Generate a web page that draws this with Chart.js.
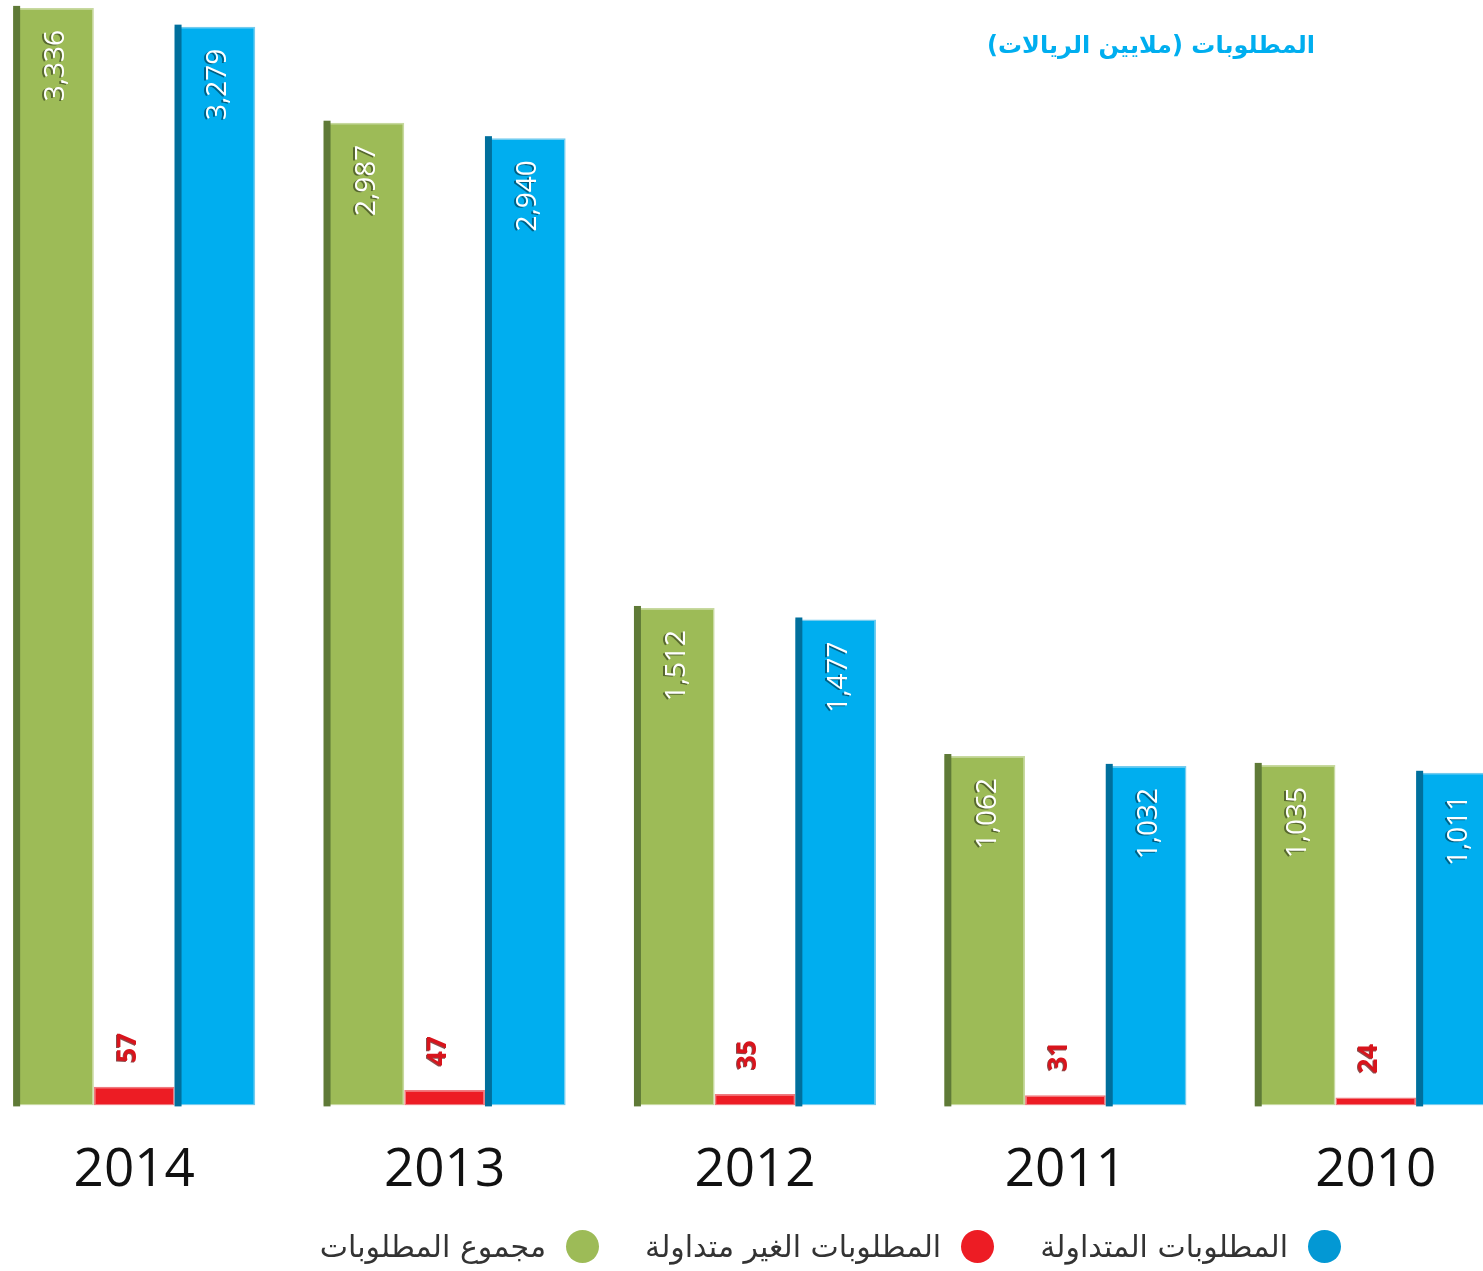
<!DOCTYPE html>
<html lang="ar">
<head>
    <meta charset="UTF-8">
    <title>المطلوبات</title>
    <style>
        body, html {
            margin: 0;
            padding: 0;
            width: 1483px;
            height: 1271px;
            overflow: hidden;
            background: #fff;
            font-family: 'Open Sans', 'DejaVu Sans', sans-serif;
        }
        .chart-wrap {
            position: absolute;
            left: -21px;
            top: 0;
            width: 1552px;
            height: 1271px;
        }
        .title {
            position: absolute;
            right: 168px;
            top: 31px;
            direction: rtl;
            color: #00aeef;
            font-weight: bold;
            font-size: 24px;
            font-family: 'DejaVu Sans', sans-serif;
        }
        .legend {
            position: absolute;
            right: 142px;
            top: 1229px;
            direction: rtl;
            display: flex;
            align-items: center;
            font-family: 'DejaVu Sans', sans-serif;
            font-size: 30px;
            color: #333;
        }
        .legend .item {
            display: flex;
            align-items: center;
            margin-left: 46px;
        }
        .legend .dot {
            width: 33px;
            height: 33px;
            border-radius: 50%;
            margin-left: 20px;
        }
    </style>
    <script src="https://cdn.jsdelivr.net/npm/chart.js"></script>
</head>
<body>
    <div class="chart-wrap">
        <canvas id="liabChart"></canvas>
    </div>
    <div class="title">المطلوبات (ملايين الريالات)</div>
    <div class="legend" id="legend"></div>

    <script>
        const years = ['2014', '2013', '2012', '2011', '2010'];
        const totalLiab = [3336, 2987, 1512, 1062, 1035];
        const nonCurrentLiab = [57, 47, 35, 31, 24];
        const currentLiab = [3279, 2940, 1477, 1032, 1011];
        const seriesNames = ['مجموع المطلوبات', 'المطلوبات الغير متداولة', 'المطلوبات المتداولة'];

        const fills = ['#9dbb57', '#ed1c24', '#00aeef'];
        const edges = ['#c7d99f', '#ef7a7f', '#74cbee'];
        const stripes = ['#5f7a37', null, '#006f9c'];
        const legendDots = ['#9dbb57', '#ed1c24', '#0398d4'];

        // dark left edge of each bar, gives the flat 3d look
        const stripePlugin = {
            id: 'stripes',
            afterDatasetsDraw(chart) {
                const c = chart.ctx;
                chart.data.datasets.forEach((ds, i) => {
                    if (!stripes[i]) return;
                    chart.getDatasetMeta(i).data.forEach(bar => {
                        const left = bar.x - bar.width / 2;
                        c.fillStyle = stripes[i];
                        c.fillRect(left, bar.y - 2, 7, bar.base - bar.y + 3);
                    });
                });
            }
        };

        // rotated value labels
        const valuePlugin = {
            id: 'values',
            afterDatasetsDraw(chart) {
                const c = chart.ctx;
                chart.data.datasets.forEach((ds, i) => {
                    chart.getDatasetMeta(i).data.forEach((bar, j) => {
                        const txt = ds.data[j].toLocaleString('en-US');
                        c.save();
                        if (i === 1) {
                            c.translate(bar.x - 6, bar.y - 24);
                            c.rotate(-Math.PI / 2);
                            c.font = 'bold 26px "Open Sans"';
                            c.textAlign = 'left';
                            c.textBaseline = 'middle';
                            c.shadowColor = 'rgba(90,0,0,0.7)';
                            c.shadowOffsetX = -1;
                            c.shadowOffsetY = 1;
                            c.fillStyle = '#d8141c';
                        } else {
                            c.translate(bar.x + 3, bar.y + 22);
                            c.rotate(-Math.PI / 2);
                            c.font = '28px "Open Sans"';
                            c.textAlign = 'right';
                            c.textBaseline = 'middle';
                            c.shadowColor = 'rgba(0,0,0,0.45)';
                            c.shadowOffsetX = -2;
                            c.shadowOffsetY = 1;
                            c.fillStyle = '#ffffff';
                        }
                        c.fillText(txt, 0, 0);
                        c.restore();
                    });
                });
            }
        };

        const seriesData = [totalLiab, nonCurrentLiab, currentLiab];

        const chart = new Chart(document.getElementById('liabChart'), {
            type: 'bar',
            data: {
                labels: years,
                datasets: seriesData.map((d, i) => ({
                    label: seriesNames[i],
                    data: d,
                    backgroundColor: fills[i],
                    borderColor: edges[i],
                    borderWidth: 1.5,
                    borderSkipped: false,
                    categoryPercentage: 0.78,
                    barPercentage: 1.0
                }))
            },
            options: {
                responsive: true,
                maintainAspectRatio: false,
                animation: false,
                layout: { padding: { top: 0, bottom: 34, left: 0, right: 0 } },
                plugins: {
                    legend: { display: false },
                    tooltip: { enabled: false }
                },
                scales: {
                    x: {
                        grid: { display: false, drawTicks: false },
                        border: { display: false },
                        ticks: {
                            color: '#111',
                            padding: 34,
                            font: { family: 'Open Sans', size: 53 }
                        }
                    },
                    y: {
                        display: false,
                        min: 0,
                        max: 3360
                    }
                }
            },
            plugins: [stripePlugin, valuePlugin]
        });

        // legend, right to left like the source
        const legendEl = document.getElementById('legend');
        [2, 1, 0].forEach(i => {
            const item = document.createElement('div');
            item.className = 'item';
            const dot = document.createElement('span');
            dot.className = 'dot';
            dot.style.background = legendDots[i];
            const label = document.createElement('span');
            label.textContent = seriesNames[i];
            item.appendChild(dot);
            item.appendChild(label);
            legendEl.appendChild(item);
        });
    </script>
</body>
</html>
